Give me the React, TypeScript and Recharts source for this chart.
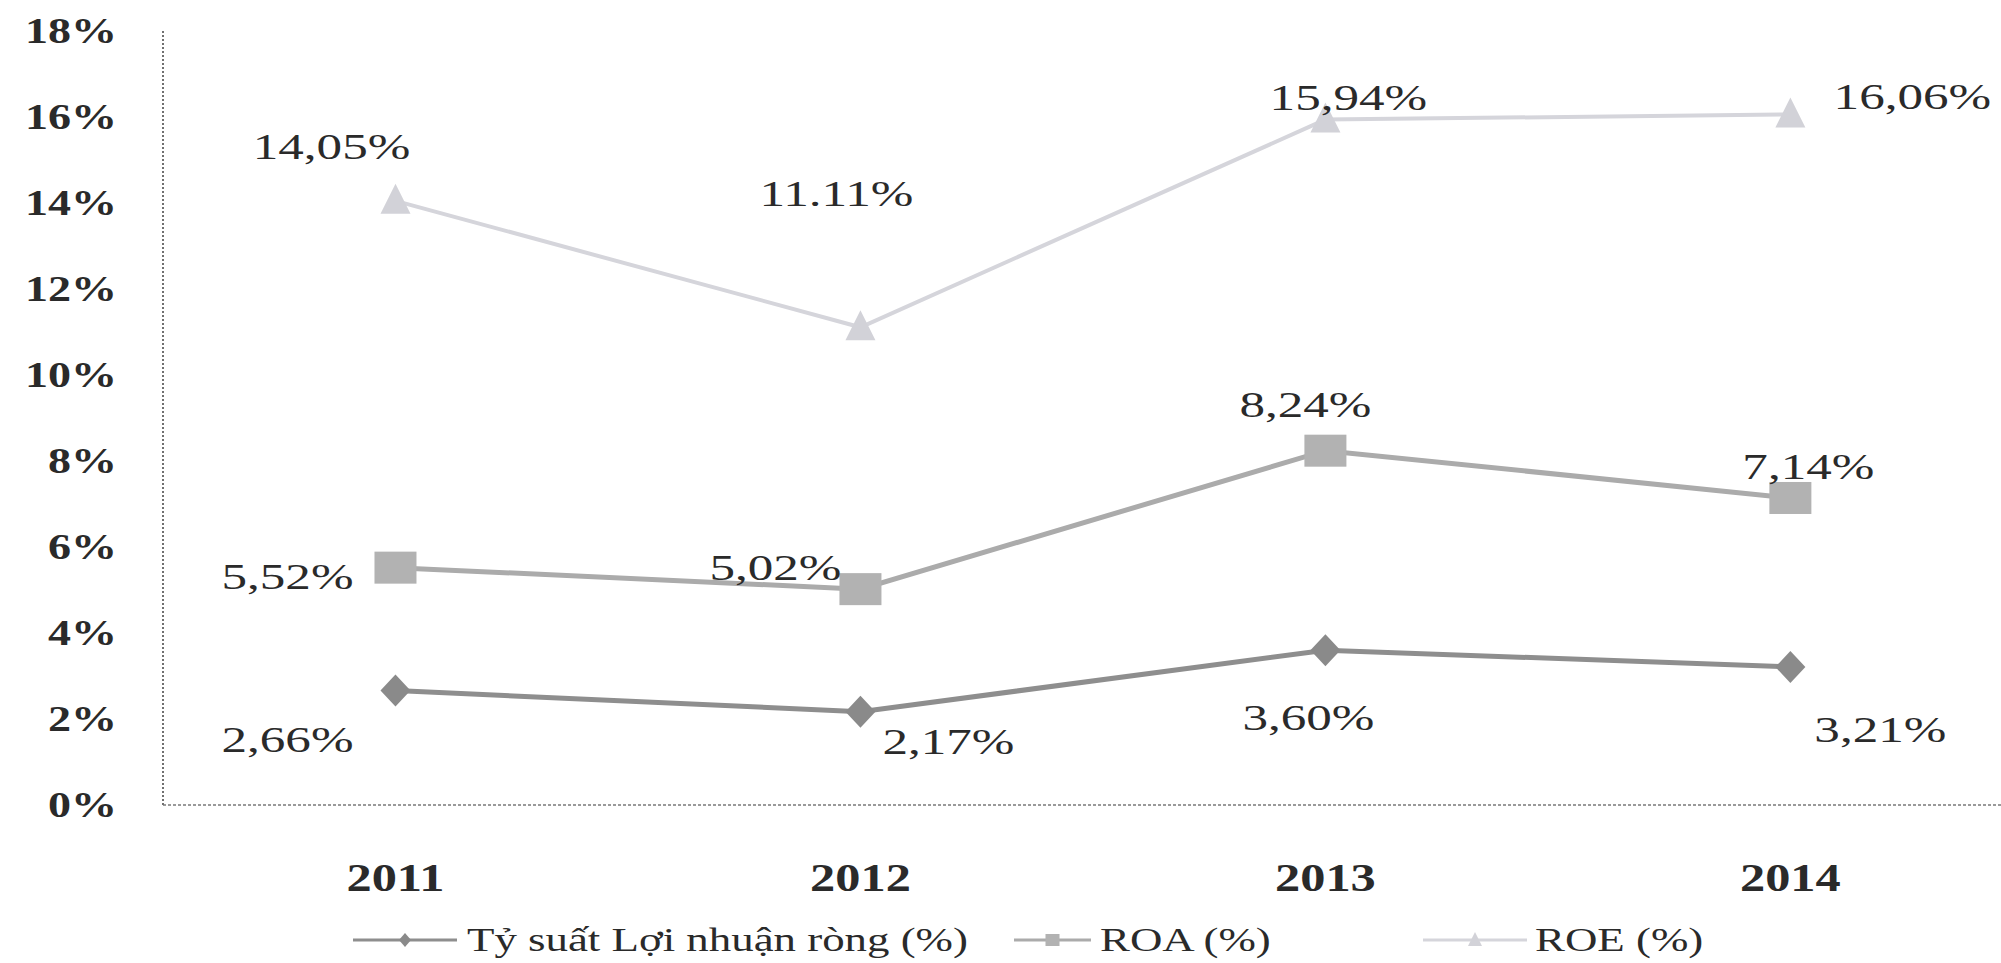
import React from 'react';
import { LineChart, Line, XAxis, YAxis, LabelList, Legend } from 'recharts';

const years = [2011, 2012, 2013, 2014];
const yearLabels = ['2011', '2012', '2013', '2014'];
const netMargin = [2.66, 2.17, 3.6, 3.21];
const roa = [5.52, 5.02, 8.24, 7.14];
const roe = [14.05, 11.11, 15.94, 16.06];
const netMarginLabels = ['2,66%', '2,17%', '3,60%', '3,21%'];
const roaLabels = ['5,52%', '5,02%', '8,24%', '7,14%'];
const roeLabels = ['14,05%', '11.11%', '15,94%', '16,06%'];
const yTicks = [0, 2, 4, 6, 8, 10, 12, 14, 16, 18];
const seriesNames = ['Tỷ suất Lợi nhuận ròng (%)', 'ROA (%)', 'ROE (%)'];

const data = years.map((y, i) => ({ year: y, net: netMargin[i], roa: roa[i], roe: roe[i] }));

const FONT = '"Liberation Serif", "Times New Roman", serif';
const TEXT = '#2a2a2a';
const NET_C = '#8e8e8e';
const ROA_C = '#ababab';
const ROE_C = '#d5d5db';

const netOff = [[-108, 50], [88, 31], [-17, 68], [90, 63]];
const roaOff = [[-108, 10], [-85, -21], [-20, -45], [18, -31]];
const roeOff = [[-64, -54], [-24, -133], [23, -21], [122, -17]];

const makeLabel = (texts: string[], offs: number[][]) => (props: any) => {
  const { x, y, index } = props;
  const [dx, dy] = offs[index];
  return (
    <text
      key={`l${index}`}
      transform={`translate(${x + dx},${y + dy}) scale(1.42,1)`}
      textAnchor="middle"
      dominantBaseline="central"
      fontSize={36}
      fontFamily={FONT}
      fill={TEXT}
    >
      {texts[index]}
    </text>
  );
};

const diamondDot = (p: any) => (
  <path
    key={`d${p.index}`}
    d={`M${p.cx},${p.cy - 16} L${p.cx + 15},${p.cy} L${p.cx},${p.cy + 16} L${p.cx - 15},${p.cy} Z`}
    fill="#8a8a8a"
  />
);
const squareDot = (p: any) => (
  <rect key={`s${p.index}`} x={p.cx - 21} y={p.cy - 16} width={42} height={32} fill="#b2b2b2" />
);
const triDot = (p: any) => (
  <path
    key={`t${p.index}`}
    d={`M${p.cx},${p.cy - 17} L${p.cx + 15},${p.cy + 13} L${p.cx - 15},${p.cy + 13} Z`}
    fill="#d2d2d8"
  />
);

const YTick = (props: any) => {
  const { x, y, payload } = props;
  return (
    <text
      transform={`translate(${x - 46},${y}) scale(1.28,1)`}
      textAnchor="end"
      dominantBaseline="central"
      fontSize={36}
      fontWeight="bold"
      fontFamily={FONT}
      fill={TEXT}
    >
      {`${payload.value}%`}
    </text>
  );
};

const XTick = (props: any) => {
  const { x, y, payload } = props;
  const label = yearLabels[years.indexOf(payload.value)];
  return (
    <text
      transform={`translate(${x},${y + 72}) scale(1.26,1)`}
      textAnchor="middle"
      dominantBaseline="central"
      fontSize={40}
      fontWeight="bold"
      fontFamily={FONT}
      fill={TEXT}
    >
      {label}
    </text>
  );
};

const LegendContent = () => {
  const cy = 27;
  const items = [
    { x1: 353, x2: 457, color: NET_C, tx: 467, kind: 'd' },
    { x1: 1014, x2: 1091, color: ROA_C, tx: 1100, kind: 's' },
    { x1: 1423, x2: 1527, color: ROE_C, tx: 1535, kind: 't' },
  ];
  return (
    <svg width={2001} height={50} style={{ display: 'block' }}>
      {items.map((it, i) => {
        const mx = (it.x1 + it.x2) / 2;
        return (
          <g key={i}>
            <line x1={it.x1} x2={it.x2} y1={cy} y2={cy} stroke={it.color} strokeWidth={3} />
            {it.kind === 'd' && (
              <path d={`M${mx},${cy - 7} L${mx + 6},${cy} L${mx},${cy + 7} L${mx - 6},${cy} Z`} fill="#8a8a8a" />
            )}
            {it.kind === 's' && <rect x={mx - 7} y={cy - 6} width={14} height={12} fill="#b2b2b2" />}
            {it.kind === 't' && (
              <path d={`M${mx},${cy - 8} L${mx + 7},${cy + 6} L${mx - 7},${cy + 6} Z`} fill="#d2d2d8" />
            )}
            <text
              transform={`translate(${it.tx},${cy}) scale(1.36,1)`}
              textAnchor="start"
              dominantBaseline="central"
              fontSize={33}
              fontFamily={FONT}
              fill={TEXT}
            >
              {seriesNames[i]}
            </text>
          </g>
        );
      })}
    </svg>
  );
};

export default function App() {
  return (
    <div style={{ position: 'absolute', left: 0, top: 0, width: 2001, height: 963, background: '#fff' }}>
      <LineChart width={2001} height={963} data={data} margin={{ top: 31, right: 0, bottom: 0, left: 0 }}>
        <XAxis
          dataKey="year"
          type="number"
          domain={[2010.5, 2014.453]}
          allowDataOverflow
          ticks={years}
          height={108}
          tickSize={0}
          tickMargin={0}
          tick={<XTick />}
          axisLine={{ stroke: '#9a9a9a', strokeWidth: 2, strokeDasharray: '3 2' }}
        />
        <YAxis
          domain={[0, 18]}
          ticks={yTicks}
          width={163}
          tickSize={0}
          tickMargin={0}
          tick={<YTick />}
          axisLine={{ stroke: '#707070', strokeWidth: 2, strokeDasharray: '2 2' }}
        />
        <Legend verticalAlign="bottom" content={<LegendContent />} />
        <Line dataKey="roe" stroke={ROE_C} strokeWidth={4} dot={triDot} isAnimationActive={false}>
          <LabelList dataKey="roe" content={makeLabel(roeLabels, roeOff)} />
        </Line>
        <Line dataKey="roa" stroke={ROA_C} strokeWidth={5} dot={squareDot} isAnimationActive={false}>
          <LabelList dataKey="roa" content={makeLabel(roaLabels, roaOff)} />
        </Line>
        <Line dataKey="net" stroke={NET_C} strokeWidth={5} dot={diamondDot} isAnimationActive={false}>
          <LabelList dataKey="net" content={makeLabel(netMarginLabels, netOff)} />
        </Line>
      </LineChart>
    </div>
  );
}
